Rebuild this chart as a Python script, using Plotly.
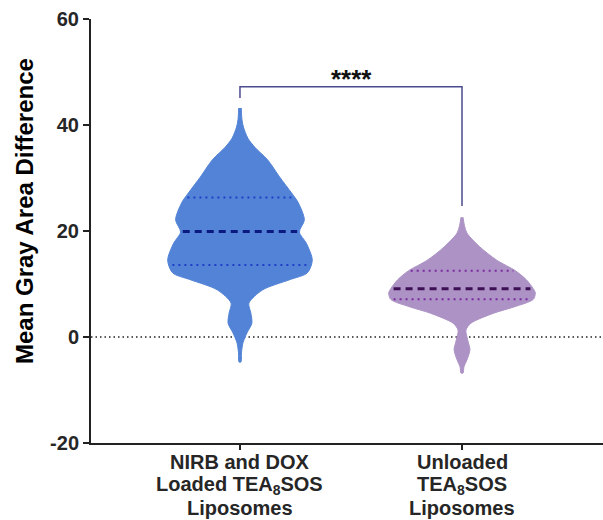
import numpy as np
import plotly.graph_objects as go

# ---- data ----
category_lines = [["NIRB and DOX", "Loaded TEA<sub>8</sub>SOS", "Liposomes"],
                  ["Unloaded", "TEA<sub>8</sub>SOS", "Liposomes"]]

# violin 1 density profile (value, relative density)
v1_values = [43.2, 41.0, 39.6, 37.5, 35.8, 33.4, 30.2, 27.2, 25.3, 22.1, 19.8, 17.7,
             14.5, 12.1, 10.8, 8.9, 6.4, 4.5, 2.6, 0.75, -1.1, -3.0, -4.7]
v1_density = [1.3, 2.0, 3.5, 8, 15, 28, 40, 52, 59, 65, 60, 67,
              73, 68, 50, 23, 9, 11, 12, 7, 3, 1.5, 1.0]
v1_quartiles = [13.6, 19.9, 26.3]

# violin 2 density profile
v2_values = [22.6, 21.0, 19.6, 17.0, 14.5, 12.5, 10.8, 9.1, 8.3, 7.1, 5.7, 4.5,
             2.6, 1.3, 0.0, -1.1, -2.4, -4.3, -5.6, -6.8]
v2_density = [1.0, 2.5, 5, 18, 35, 54, 65, 72, 74, 72, 53, 32,
              9, 4, 5, 6.5, 8, 5, 2, 1.0]
v2_quartiles = [7.1, 9.1, 12.5]

y_ticks = [-20, 0, 20, 40, 60]
y_title = "Mean Gray Area Difference"
sig_label = "****"
bracket_y = 47.2
bracket_left_end = 45.1
bracket_right_end = 24.7

# ---- styles ----
fills = ["#5383D6", "#AD93C5"]
median_colors = ["#0A1A80", "#3D0F55"]
quart_colors = ["#2040C8", "#7A2A9E"]
scale = 0.33 / 74.0
font_family = "Liberation Sans, Arial, sans-serif"

fig = go.Figure()

groups = [(v1_values, v1_density, v1_quartiles), (v2_values, v2_density, v2_quartiles)]
for i, (vals, dens, q) in enumerate(groups):
    vals = np.array(vals, dtype=float)
    dens = np.array(dens, dtype=float) * scale
    xs = np.concatenate([i + dens, (i - dens)[::-1]])
    ys = np.concatenate([vals, vals[::-1]])
    fig.add_trace(go.Scatter(x=xs, y=ys, fill="toself", fillcolor=fills[i],
                             mode="lines", line=dict(color=fills[i], width=1, shape="spline", smoothing=0.8),
                             hoverinfo="skip", showlegend=False))
    order = np.argsort(vals)
    for k, qv in enumerate(q):
        hw = np.interp(qv, vals[order], dens[order]) * 0.96
        if k == 1:
            line = dict(color=median_colors[i], width=3, dash="7px,5px")
        else:
            line = dict(color=quart_colors[i], width=2, dash="2px,4px")
        fig.add_trace(go.Scatter(x=[i - hw, i + hw], y=[qv, qv], mode="lines",
                                 line=line, hoverinfo="skip", showlegend=False))

# zero line
fig.add_shape(type="line", xref="paper", x0=0, x1=1, yref="y", y0=0, y1=0,
              line=dict(color="#222222", width=1.5, dash="1.5px,3px"), layer="below")

# significance bracket
fig.add_trace(go.Scatter(x=[0, 0, 1, 1], y=[bracket_left_end, bracket_y, bracket_y, bracket_right_end],
                         mode="lines", line=dict(color="#4B4B8F", width=1.5),
                         hoverinfo="skip", showlegend=False))
fig.add_annotation(x=0.5, y=bracket_y, yanchor="bottom", yshift=-9, text="<b>" + sig_label + "</b>",
                   showarrow=False, font=dict(size=26, color="#111111", family=font_family))

# category labels (one annotation per line for tight line spacing)
for i, lines in enumerate(category_lines):
    for j, txt in enumerate(lines):
        fig.add_annotation(x=i, xref="x", y=0, yref="paper", yanchor="middle",
                           yshift=-19 - 23 * j, text="<b>" + txt + "</b>", showarrow=False,
                           font=dict(size=20, family=font_family, color="#262626"))

# y-axis title
fig.add_annotation(x=-0.131, xref="paper", y=0.547, yref="paper", xanchor="center", yanchor="middle",
                   textangle=-90, text="<b>" + y_title + "</b>", showarrow=False,
                   font=dict(size=24, family=font_family, color="#000000"))

fig.update_layout(
    width=603, height=520,
    margin=dict(l=91, r=0, t=19, b=77),
    plot_bgcolor="white", paper_bgcolor="white",
    font=dict(family=font_family, color="#262626"),
    xaxis=dict(range=[-0.671, 1.635], tickmode="array", tickvals=[0, 1],
               showticklabels=False, automargin=False,
               showline=True, linecolor="#222222", linewidth=2,
               ticks="outside", ticklen=5, tickwidth=1.5, tickcolor="#222222",
               showgrid=False, zeroline=False),
    yaxis=dict(range=[-20, 60], tickmode="array", tickvals=y_ticks,
               ticktext=["<b>%d</b>" % t for t in y_ticks], automargin=False,
               showline=True, linecolor="#222222", linewidth=2,
               ticks="outside", ticklen=6, tickwidth=2, tickcolor="#222222",
               showgrid=False, zeroline=False,
               tickfont=dict(size=20, family=font_family, color="#262626")),
)

fig.write_html("out.html", config={"displayModeBar": False},
               post_script="document.body.style.margin='0';")
